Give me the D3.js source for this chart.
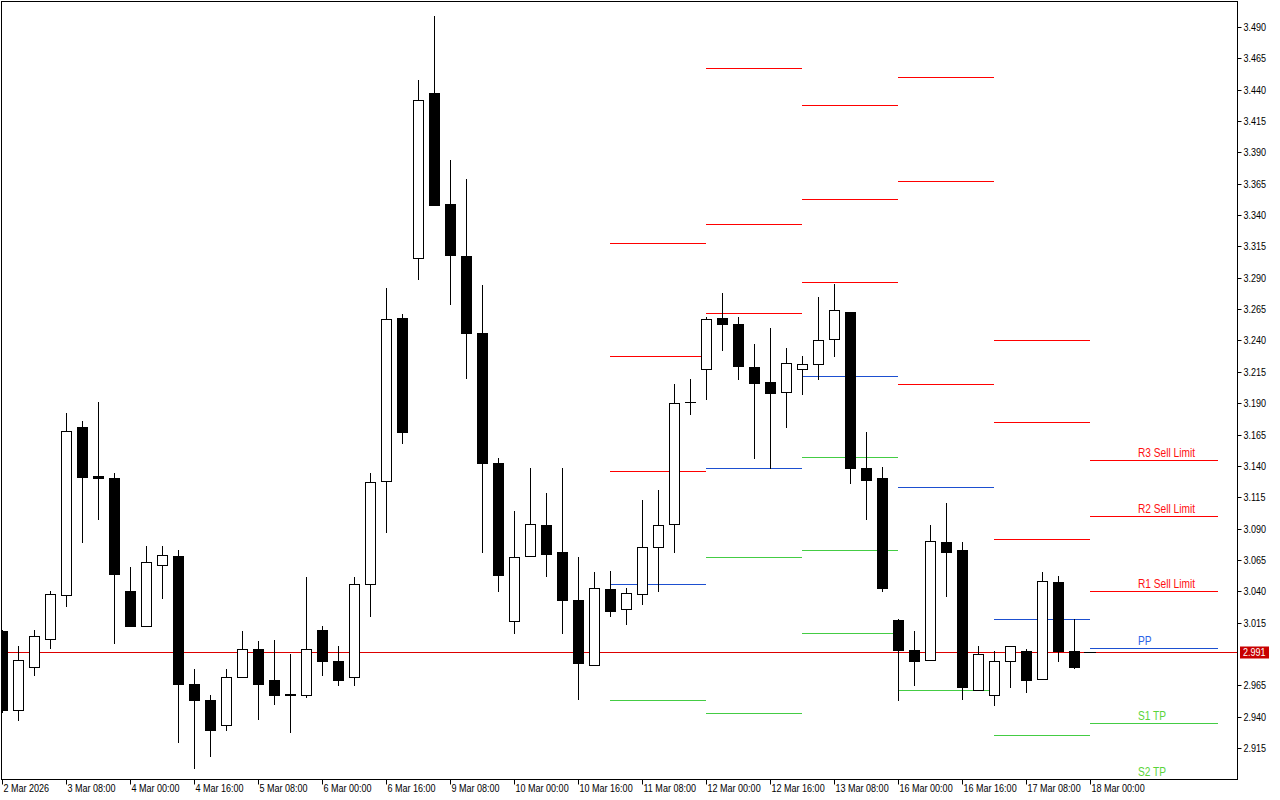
<!DOCTYPE html>
<html>
<head>
<meta charset="utf-8">
<script src="https://cdn.jsdelivr.net/npm/d3@7"></script>
<style>
  html, body { margin: 0; padding: 0; background: #ffffff; }
  svg { display: block; }
  text { font-family: "Liberation Sans", Arial, sans-serif; }
</style>
</head>
<body>
<svg id="chart" width="1280" height="800"></svg>
<script>
// ---------------- DATA ----------------
const timeLabels = ["2 Mar 2026","3 Mar 08:00","4 Mar 00:00","4 Mar 16:00","5 Mar 08:00","6 Mar 00:00",
  "6 Mar 16:00","9 Mar 08:00","10 Mar 00:00","10 Mar 16:00","11 Mar 08:00","12 Mar 00:00",
  "12 Mar 16:00","13 Mar 08:00","16 Mar 00:00","16 Mar 16:00","17 Mar 08:00","18 Mar 00:00"];
const labelEvery = 4; // bars between time labels (H4 bars)

const opens  = [3.008,2.945,2.980,3.002,3.037,3.171,3.132,3.130,3.040,3.012,3.061,3.068,2.966,2.953,2.933,2.972,2.994,2.969,2.957,2.957,
                3.009,2.984,2.972,3.046,3.128,3.258,3.306,3.437,3.349,3.307,3.246,3.142,3.016,3.068,3.093,3.071,3.033,2.981,3.042,3.026,
                3.038,3.075,3.094,3.191,3.217,3.258,3.253,3.219,3.207,3.199,3.217,3.221,3.241,3.263,3.138,3.130,3.017,2.993,2.985,3.079,
                3.073,2.961,2.957,2.984,2.992,2.970,3.047,2.992];
const highs  = [3.009,2.996,3.009,3.040,3.182,3.176,3.191,3.134,3.059,3.076,3.076,3.073,2.978,2.957,2.978,3.008,3.000,3.001,2.990,3.051,
                3.012,2.996,3.051,3.134,3.282,3.261,3.448,3.499,3.384,3.369,3.284,3.146,3.104,3.138,3.118,3.138,3.067,3.055,3.056,3.043,
                3.113,3.121,3.205,3.209,3.259,3.278,3.259,3.237,3.250,3.234,3.228,3.275,3.285,3.263,3.167,3.139,3.018,3.008,3.093,3.110,
                3.079,2.996,2.992,2.996,2.994,3.055,3.052,3.018];
const lows   = [2.944,2.937,2.973,2.995,3.028,3.079,3.098,2.999,3.012,3.012,3.035,2.920,2.899,2.909,2.929,2.972,2.938,2.950,2.928,2.956,
                2.973,2.965,2.965,3.020,3.087,3.158,3.289,3.348,3.269,3.210,3.071,3.040,3.007,3.068,3.052,3.007,2.954,2.981,3.020,3.014,
                3.030,3.040,3.071,3.181,3.193,3.232,3.209,3.146,3.138,3.171,3.197,3.209,3.228,3.126,3.098,3.040,2.953,2.965,2.985,3.036,
                2.954,2.961,2.949,2.964,2.960,2.970,2.984,2.979];
const closes = [2.945,2.985,3.004,3.038,3.168,3.131,3.130,3.054,3.012,3.063,3.069,2.966,2.953,2.929,2.972,2.994,2.966,2.957,2.958,2.994,
                2.984,2.969,3.046,3.127,3.257,3.167,3.432,3.348,3.308,3.246,3.142,3.053,3.067,3.094,3.070,3.033,2.983,3.043,3.024,3.039,
                3.075,3.093,3.190,3.191,3.257,3.253,3.220,3.206,3.198,3.222,3.221,3.240,3.264,3.138,3.129,3.043,2.993,2.984,3.080,3.071,
                2.964,2.990,2.984,2.996,2.969,3.048,2.992,2.980];

// Daily classic pivot levels (one value per day)
const pivotDays = ["11 Mar","12 Mar","13 Mar","16 Mar","17 Mar","18 Mar"];
const dayStartBar = [38, 44, 50, 56, 62, 68];
const dayEndBar   = [44, 50, 56, 62, 68, 76];
const R3 = [3.318, 3.457, 3.428, 3.450, 3.240, 3.145];
const R2 = [3.228, 3.333, 3.353, 3.367, 3.175, 3.100];
const R1 = [3.136, 3.262, 3.287, 3.205, 3.082, 3.040];
const PP = [3.046, 3.138, 3.212, 3.123, 3.018, 2.995];
const S1 = [2.953, 3.067, 3.147, 2.961, 2.925, 2.935];
const S2 = [2.863, 2.943, 3.073, 2.879, 2.861, 2.890];
const S3 = [2.771, 2.873, 3.007, 2.717, 2.778, 2.830];
const levelNames  = ["R3","R2","R1","PP","S1","S2","S3"];
const levelLabels = ["R3 Sell Limit","R2 Sell Limit","R1 Sell Limit","PP","S1 TP","S2 TP",""];

const priceTicks = ["3.490","3.465","3.440","3.415","3.390","3.365","3.340","3.315","3.290","3.265","3.240","3.215",
                    "3.190","3.165","3.140","3.115","3.090","3.065","3.040","3.015","2.965","2.940","2.915"];
const currentPrice = 2.991;

// ---------------- LAYOUT ----------------
const svg = d3.select("#chart");
const plotL = 1, plotR = 1237, plotT = 1, plotB = 779;
const x = d3.scaleLinear().domain([0, 77]).range([2, 2 + 16 * 77]);
const y = d3.scaleLinear().domain([2.8903, 3.5107]).range([plotB, plotT]);
const py = v => Math.round(y(v)) + 0.5;
const bodyHalf = 4.5;
const NARROW = 0.82;

function condense(sel, f) {
  sel.each(function () {
    const w = this.getComputedTextLength();
    this.setAttribute("textLength", (w * f).toFixed(2));
    this.setAttribute("lengthAdjust", "spacingAndGlyphs");
  });
}

svg.append("rect").attr("width", 1280).attr("height", 800).attr("fill", "#ffffff");

svg.append("defs").append("clipPath").attr("id", "plotClip")
  .append("rect").attr("x", plotL + 1).attr("y", plotT + 1)
  .attr("width", plotR - plotL - 1).attr("height", plotB - plotT - 1);

const plot = svg.append("g").attr("clip-path", "url(#plotClip)");

// current price line (behind candles)
const curY = Math.floor(y(currentPrice)) + 0.5;
plot.append("line")
  .attr("x1", plotL).attr("x2", plotR)
  .attr("y1", curY).attr("y2", curY)
  .attr("stroke", "#dd0000").attr("stroke-width", 1);

// pivot lines
const levelArrays = [R3, R2, R1, PP, S1, S2, S3];
const colorFor = name => name === "PP" ? "#1d4fd0" : (name[0] === "R" ? "#ff0000" : "#44cc44");
const pivotData = [];
levelArrays.forEach((arr, li) => {
  arr.forEach((v, di) => pivotData.push({ name: levelNames[li], label: levelLabels[li], v, di }));
});
plot.append("g").selectAll("line").data(pivotData).join("line")
  .attr("x1", d => x(dayStartBar[d.di]))
  .attr("x2", d => x(dayEndBar[d.di]))
  .attr("y1", d => py(d.v)).attr("y2", d => py(d.v))
  .attr("stroke", d => colorFor(d.name)).attr("stroke-width", 1);

// labels on last day
const lastDay = pivotDays.length - 1;
const lbl = plot.append("g").selectAll("text")
  .data(pivotData.filter(d => d.di === lastDay && d.label))
  .join("text")
  .attr("x", x(dayStartBar[lastDay] + 3))
  .attr("y", d => py(d.v) - 3.5)
  .attr("font-size", "12.4px")
  .attr("fill", d => d.name === "PP" ? "#2a62e8" : (d.name[0] === "R" ? "#ff1010" : "#5ad43a"))
  .text(d => d.label);
condense(lbl, NARROW);

// candles
const candles = opens.map((o, i) => ({ i, o, h: highs[i], l: lows[i], c: closes[i] }));
const cg = plot.append("g");
cg.selectAll("line.wick").data(candles).join("line").attr("class", "wick")
  .attr("x1", d => Math.round(x(d.i)) + 0.5).attr("x2", d => Math.round(x(d.i)) + 0.5)
  .attr("y1", d => Math.round(y(d.h))).attr("y2", d => Math.round(y(d.l)) + 1)
  .attr("stroke", "#000").attr("stroke-width", 1);
cg.selectAll("rect.body").data(candles).join("rect").attr("class", "body")
  .attr("x", d => Math.round(x(d.i)) - bodyHalf)
  .attr("width", bodyHalf * 2 + 1)
  .attr("y", d => Math.round(y(Math.max(d.o, d.c))) + 0.5)
  .attr("height", d => Math.max(0.001, Math.round(y(Math.min(d.o, d.c))) - Math.round(y(Math.max(d.o, d.c)))))
  .attr("fill", d => d.c > d.o ? "#ffffff" : "#000000")
  .attr("stroke", "#000").attr("stroke-width", 1);

// small dash at current price after last bar
const lastIdx = closes.length - 1;
plot.append("line")
  .attr("x1", x(lastIdx) + 10).attr("x2", x(lastIdx) + 22)
  .attr("y1", curY).attr("y2", curY)
  .attr("stroke", "#000").attr("stroke-width", 1);

// frame
svg.append("rect")
  .attr("x", plotL + 0.5).attr("y", plotT + 0.5)
  .attr("width", plotR - plotL).attr("height", plotB - plotT)
  .attr("fill", "none").attr("stroke", "#000").attr("stroke-width", 1);

// price axis
const yAxis = d3.axisRight(y)
  .tickValues(priceTicks.map(Number))
  .tickFormat((d, i) => priceTicks[i])
  .tickSize(4).tickPadding(2);
const ya = svg.append("g").attr("transform", `translate(${plotR + 0.5},0)`).call(yAxis);
ya.select(".domain").remove();
ya.selectAll(".tick line").attr("stroke", "#000");
ya.selectAll(".tick").attr("transform", d => `translate(0,${py(d)})`);
const yt = ya.selectAll(".tick text").attr("font-size", "11px").attr("fill", "#000")
  .attr("font-family", '"Liberation Sans", Arial, sans-serif');
condense(yt, NARROW);

// current price tag
svg.append("rect").attr("x", 1240).attr("y", curY - 6).attr("width", 29).attr("height", 12).attr("fill", "#c80000");
const tagText = svg.append("text").attr("x", 1243).attr("y", curY).attr("dy", "0.35em")
  .attr("font-size", "11px").attr("fill", "#ffffff").text(currentPrice.toFixed(3));
condense(tagText, NARROW);

// time axis
const tickIdx = timeLabels.map((t, k) => k * labelEvery);
const xAxis = d3.axisBottom(x)
  .tickValues(tickIdx)
  .tickFormat((d, k) => timeLabels[k])
  .tickSize(5).tickPadding(3);
const xa = svg.append("g").attr("transform", `translate(0,${plotB + 0.5})`).call(xAxis);
xa.select(".domain").remove();
xa.selectAll(".tick").attr("transform", d => `translate(${Math.round(x(d)) + 0.5},0)`);
xa.selectAll(".tick line").attr("stroke", "#000");
const xt = xa.selectAll(".tick text").attr("text-anchor", "start").attr("x", 1).attr("y", 5).attr("dy", "0.71em")
  .attr("font-size", "11px").attr("fill", "#000")
  .attr("font-family", '"Liberation Sans", Arial, sans-serif');
condense(xt, NARROW);
</script>
</body>
</html>
